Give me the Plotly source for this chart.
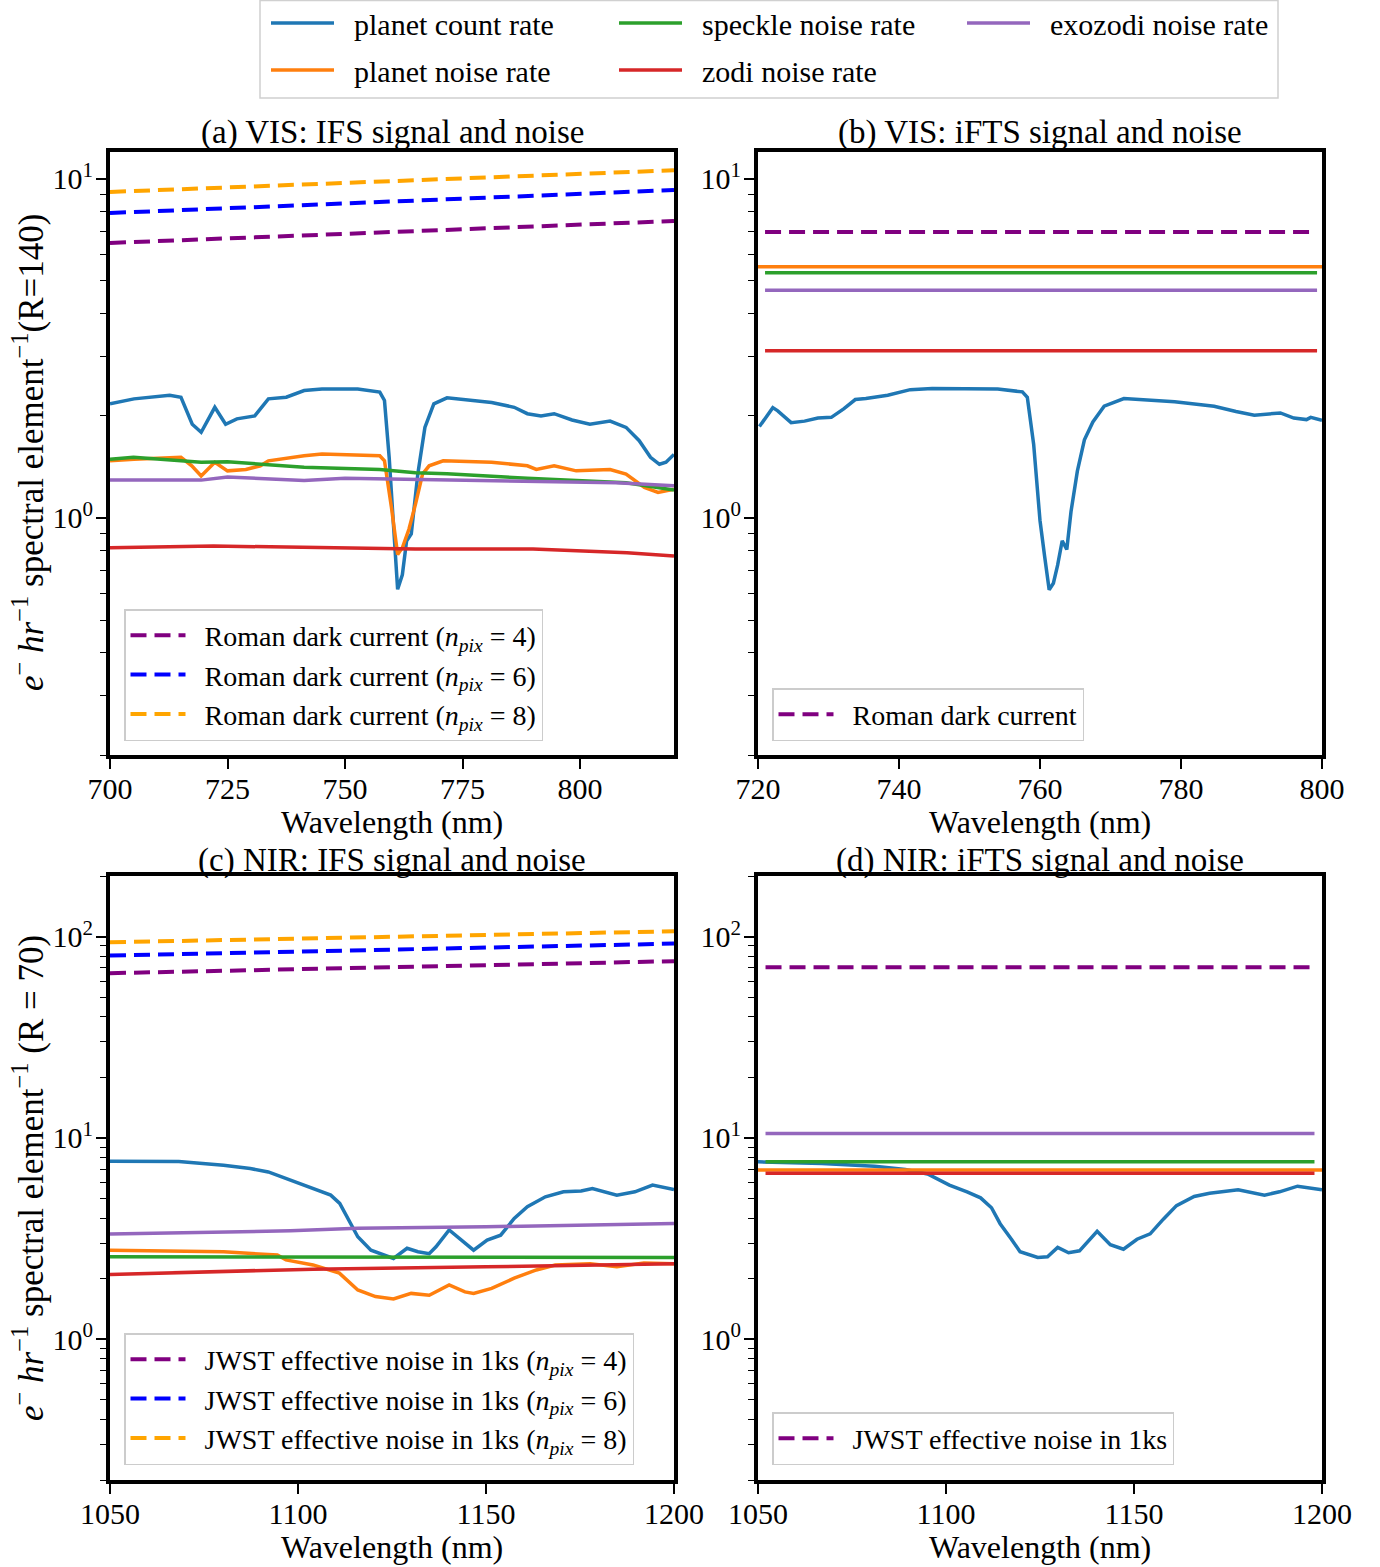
import math
import plotly.graph_objects as go

# ---------------- Panel (a): VIS IFS ----------------
a_count_wl = [700.0, 705.1, 712.7, 715.1, 717.5, 719.4, 722.3, 724.6, 727.0, 730.8, 733.7, 737.5,
              741.3, 745.1, 752.7, 757.4, 758.4, 759.4, 760.3, 761.2, 762.2, 763.1, 764.1, 765.5,
              767.0, 768.9, 771.7, 781.2, 786.0, 788.8, 791.7, 794.5, 798.3, 802.1, 806.4, 809.8,
              812.6, 815.0, 816.9, 818.3, 820.0]
a_count = [2.17, 2.245, 2.30, 2.27, 1.89, 1.79, 2.12, 1.89, 1.96, 2.00, 2.245, 2.27,
           2.376, 2.40, 2.40, 2.35, 2.22, 1.51, 0.96, 0.616, 0.68, 0.855, 0.897, 1.35,
           1.85, 2.17, 2.26, 2.19, 2.12, 2.03, 2.00, 2.03, 1.945, 1.89, 1.93, 1.85,
           1.69, 1.51, 1.44, 1.46, 1.54]
a_noise_wl = [700.0, 705.1, 715.1, 717.4, 719.4, 722.3, 725.0, 728.9, 732.0, 733.7, 741.3, 745.1,
              757.4, 758.4, 759.9, 761.2, 762.2, 763.6, 765.0, 766.5, 767.9, 770.9, 781.2, 788.8,
              790.7, 794.5, 799.2, 806.4, 809.8, 813.7, 816.6, 820.0]
a_noise = [1.474, 1.49, 1.51, 1.425, 1.33, 1.46, 1.377, 1.39, 1.425, 1.474, 1.526, 1.545,
           1.526, 1.474, 1.07, 0.78, 0.817, 0.926, 1.098, 1.347, 1.425, 1.474, 1.46, 1.425,
           1.39, 1.425, 1.377, 1.39, 1.347, 1.23, 1.19, 1.216]
a_speckle_wl = [700.0, 705.0, 719.4, 725.0, 741.3, 757.4, 765.0, 771.7, 788.8, 794.5, 809.8, 820.0]
a_speckle = [1.49, 1.51, 1.46, 1.465, 1.41, 1.39, 1.36, 1.35, 1.31, 1.30, 1.27, 1.208]
a_exozodi_wl = [700.0, 719.4, 725.0, 741.3, 750.0, 765.0, 771.7, 790.7, 807.7, 820.0]
a_exozodi = [1.293, 1.293, 1.32, 1.29, 1.31, 1.30, 1.30, 1.28, 1.27, 1.245]
a_zodi_wl = [700.0, 722.0, 741.0, 765.0, 790.0, 810.0, 820.0]
a_zodi = [0.817, 0.826, 0.82, 0.81, 0.81, 0.79, 0.772]
a_dark_wl = [700.0, 760.0, 820.0]
a_dark4 = [6.47, 6.96, 7.51]
a_dark6 = [7.93, 8.60, 9.27]
a_dark8 = [9.15, 9.84, 10.6]

# ---------------- Panel (b): VIS iFTS ----------------
b_count_wl = [720.2, 721.0, 722.1, 722.8, 724.7, 726.6, 728.5, 730.4, 732.2, 733.8, 735.3, 738.4,
              741.6, 744.7, 754.0, 757.5, 758.2, 759.1, 760.0, 760.65, 761.3, 761.9, 762.5, 763.15,
              763.8, 764.4, 765.3, 766.3, 767.5, 769.1, 771.9, 779.1, 784.7, 787.8, 790.4, 794.1,
              796.0, 797.8, 798.4, 800.0]
b_count = [1.86, 1.97, 2.115, 2.07, 1.91, 1.93, 1.97, 1.98, 2.10, 2.235, 2.25, 2.30,
           2.39, 2.41, 2.40, 2.354, 2.27, 1.65, 0.983, 0.772, 0.614, 0.642, 0.726, 0.857,
           0.807, 1.045, 1.374, 1.70, 1.92, 2.136, 2.25, 2.20, 2.136, 2.06, 2.01, 2.04,
           1.97, 1.95, 1.98, 1.94]
b_noise_wl = [720.0, 800.0]
b_noise = [5.51, 5.51]
b_line_wl = [721.0, 799.3]
b_speckle = [5.29, 5.29]
b_exozodi = [4.69, 4.69]
b_zodi = [3.11, 3.11]
b_dark_wl = [721.0, 799.2]
b_dark = [6.97, 6.97]

# ---------------- Panel (c): NIR IFS ----------------
c_count_wl = [1050.0, 1068.3, 1080.2, 1087.3, 1092.1, 1098.0, 1104.0, 1108.7, 1111.1, 1113.5, 1115.9,
              1119.4, 1123.0, 1125.4, 1129.0, 1131.9, 1134.9, 1136.7, 1140.2, 1144.4, 1146.7, 1150.3,
              1153.9, 1157.5, 1161.0, 1165.8, 1170.6, 1175.3, 1178.3, 1184.8, 1189.6, 1194.3, 1200.0]
c_count = [7.66, 7.63, 7.32, 7.05, 6.78, 6.17, 5.61, 5.20, 4.73, 3.91, 3.23,
           2.77, 2.62, 2.52, 2.83, 2.72, 2.66, 2.88, 3.49, 2.99, 2.77, 3.11,
           3.29, 3.98, 4.55, 5.10, 5.40, 5.45, 5.61, 5.20, 5.40, 5.83, 5.55]
c_noise_wl = [1050.0, 1080.2, 1094.5, 1096.8, 1104.0, 1111.0, 1115.9, 1120.6, 1125.4, 1130.1, 1134.9,
              1140.2, 1144.4, 1146.7, 1151.5, 1157.5, 1163.4, 1168.4, 1177.7, 1184.8, 1192.0, 1200.0]
c_noise = [2.77, 2.72, 2.62, 2.48, 2.34, 2.13, 1.757, 1.63, 1.585, 1.69, 1.655,
           1.86, 1.72, 1.69, 1.79, 2.01, 2.21, 2.34, 2.37, 2.29, 2.39, 2.37]
c_speckle_wl = [1050.0, 1125.0, 1200.0]
c_speckle = [2.57, 2.57, 2.55]
c_exozodi_wl = [1050.0, 1098.0, 1115.9, 1150.0, 1200.0]
c_exozodi = [3.33, 3.46, 3.56, 3.62, 3.76]
c_zodi_wl = [1050.0, 1104.0, 1150.0, 1200.0]
c_zodi = [2.10, 2.23, 2.29, 2.37]
c_jwst_wl = [1050.0, 1125.0, 1200.0]
c_jwst4 = [65.8, 70.5, 75.5]
c_jwst6 = [80.5, 86.0, 92.3]
c_jwst8 = [93.7, 100.0, 106.3]

# ---------------- Panel (d): NIR iFTS ----------------
d_count_wl = [1050.0, 1067.0, 1081.0, 1089.2, 1095.1, 1100.9, 1105.6, 1109.2, 1112.1, 1114.4, 1117.4,
              1119.7, 1124.4, 1127.0, 1129.7, 1132.6, 1135.5, 1140.2, 1143.7, 1147.2, 1150.8, 1154.3,
              1157.8, 1161.3, 1166.0, 1170.1, 1177.7, 1184.7, 1188.7, 1193.5, 1200.0]
d_count = [7.61, 7.46, 7.23, 6.97, 6.62, 5.83, 5.39, 5.04, 4.50, 3.75, 3.14,
           2.72, 2.55, 2.57, 2.86, 2.69, 2.75, 3.44, 2.95, 2.80, 3.14, 3.34,
           3.95, 4.61, 5.12, 5.31, 5.53, 5.20, 5.40, 5.76, 5.53]
d_noise_wl = [1050.0, 1200.0]
d_noise = [6.93, 6.93]
d_line_wl = [1052.0, 1198.0]
d_speckle = [7.61, 7.61]
d_exozodi = [10.53, 10.53]
d_zodi = [6.68, 6.68]
d_jwst_wl = [1052.0, 1198.0]
d_jwst = [70.4, 70.4]

# ---------------- Labels ----------------
series_names = ["planet count rate", "planet noise rate", "speckle noise rate",
                "zodi noise rate", "exozodi noise rate"]
series_colors = ["#1f77b4", "#ff7f0e", "#2ca02c", "#d62728", "#9467bd"]
dark_colors = ["purple", "blue", "orange"]
npix_values = [4, 6, 8]
panel_titles = ["(a) VIS: IFS signal and noise", "(b) VIS: iFTS signal and noise",
                "(c) NIR: IFS signal and noise", "(d) NIR: iFTS signal and noise"]
ylabel_top = "<i>e</i><sup>\u2212</sup> <i>hr</i><sup>\u22121</sup> spectral element<sup>\u22121</sup>(R=140)"
ylabel_bot = "<i>e</i><sup>\u2212</sup> <i>hr</i><sup>\u22121</sup> spectral element<sup>\u22121</sup> (R = 70)"
xlabel = "Wavelength (nm)"
top_ticks = [1, 10]
top_ticktext = ["10<sup>0</sup>", "10<sup>1</sup>"]
top_minor = [0.2, 0.3, 0.4, 0.5, 0.6, 0.7, 0.8, 0.9, 2, 3, 4, 5, 6, 7, 8, 9]
bot_ticks = [1, 10, 100]
bot_ticktext = ["10<sup>0</sup>", "10<sup>1</sup>", "10<sup>2</sup>"]
bot_minor = top_minor + [20, 30, 40, 50, 60, 70, 80, 90, 200]
xa_ticks = [700, 725, 750, 775, 800]
xb_ticks = [720, 740, 760, 780, 800]
xcd_ticks = [1050, 1100, 1150, 1200]

FONT = "Liberation Serif"
W, H = 1380, 1567
SOLID_W = 3.5
DASH = "16px,8px"
GAP = "\u2002"

fig = go.Figure()


def add(x, y, color, xa, ya, name, legend=None, dash=None, width=SOLID_W):
    fig.add_trace(go.Scatter(
        x=x, y=y, mode="lines", name=GAP + name,
        line=dict(color=color, width=width, dash=dash),
        xaxis=xa, yaxis=ya,
        showlegend=legend is not None,
        legend=legend if legend else "legend",
    ))


# main legend split over two rows (column-wise like matplotlib ncol=3)
row_of = {0: "legend", 1: "legend2", 2: "legend", 3: "legend2", 4: "legend"}

# Panel (a)
a_series = [(a_count_wl, a_count), (a_noise_wl, a_noise), (a_speckle_wl, a_speckle),
            (a_zodi_wl, a_zodi), (a_exozodi_wl, a_exozodi)]
for i, (xx, yy) in enumerate(a_series):
    add(xx, yy, series_colors[i], "x", "y", series_names[i], legend=row_of[i])
for k, yy in enumerate([a_dark4, a_dark6, a_dark8]):
    add(a_dark_wl, yy, dark_colors[k], "x", "y",
        "Roman dark current (<i>n</i><sub><i>pix</i></sub> = %d)" % npix_values[k],
        legend="legend3", dash=DASH, width=4)

# Panel (b)
b_series = [(b_count_wl, b_count), (b_noise_wl, b_noise), (b_line_wl, b_speckle),
            (b_line_wl, b_zodi), (b_line_wl, b_exozodi)]
for i, (xx, yy) in enumerate(b_series):
    add(xx, yy, series_colors[i], "x2", "y2", series_names[i])
add(b_dark_wl, b_dark, dark_colors[0], "x2", "y2", "Roman dark current",
    legend="legend4", dash=DASH, width=4)

# Panel (c)
c_series = [(c_count_wl, c_count), (c_noise_wl, c_noise), (c_speckle_wl, c_speckle),
            (c_zodi_wl, c_zodi), (c_exozodi_wl, c_exozodi)]
for i, (xx, yy) in enumerate(c_series):
    add(xx, yy, series_colors[i], "x3", "y3", series_names[i])
for k, yy in enumerate([c_jwst4, c_jwst6, c_jwst8]):
    add(c_jwst_wl, yy, dark_colors[k], "x3", "y3",
        "JWST effective noise in 1ks (<i>n</i><sub><i>pix</i></sub> = %d)" % npix_values[k],
        legend="legend5", dash=DASH, width=4)

# Panel (d)
d_series = [(d_count_wl, d_count), (d_noise_wl, d_noise), (d_line_wl, d_speckle),
            (d_line_wl, d_zodi), (d_line_wl, d_exozodi)]
for i, (xx, yy) in enumerate(d_series):
    add(xx, yy, series_colors[i], "x4", "y4", series_names[i])
add(d_jwst_wl, d_jwst, dark_colors[0], "x4", "y4", "JWST effective noise in 1ks",
    legend="legend6", dash=DASH, width=4)


def px_x(p):
    return p / W


def px_y(p):
    return 1 - p / H


xdom_l = [px_x(110), px_x(674)]
xdom_r = [px_x(758), px_x(1322)]
ydom_t = [px_y(755), px_y(152)]
ydom_b = [px_y(1480), px_y(876)]

tickfont = dict(family=FONT, size=30, color="black")
common_ax = dict(showline=True, linewidth=4, linecolor="black", mirror=True,
                 showgrid=False, zeroline=False, ticks="outside", ticklen=10,
                 tickwidth=1.5, tickcolor="black", tickfont=tickfont)


def xaxis(dom, rng, ticks, anchor):
    return dict(common_ax, domain=dom, range=rng, tickmode="array", tickvals=ticks,
                ticktext=[str(t) for t in ticks], anchor=anchor, ticklabelstandoff=-6)


def yaxis(dom, rng, ticks, ticktext, minor, anchor):
    return dict(common_ax, domain=dom, type="log", range=rng, tickmode="array",
                tickvals=ticks, ticktext=ticktext, anchor=anchor, ticklabelstandoff=-3,
                minor=dict(tickmode="array", tickvals=minor, ticks="outside",
                           ticklen=6, tickwidth=1.2, tickcolor="black", showgrid=False))


rt = [math.log10(0.2), math.log10(12)]
rb = [math.log10(0.2), math.log10(200)]

legend_inset = dict(bgcolor="rgba(255,255,255,0.85)", bordercolor="#cccccc", borderwidth=1.5,
                    font=dict(family=FONT, size=28, color="black"), itemwidth=55,
                    xanchor="left", yanchor="bottom", orientation="v", traceorder="normal")
legend_top = dict(bgcolor="rgba(0,0,0,0)", borderwidth=0, orientation="h",
                  font=dict(family=FONT, size=30, color="black"),
                  entrywidth=270, entrywidthmode="pixels", itemwidth=63,
                  xanchor="left", yanchor="top", traceorder="normal")

fig.update_layout(
    width=W, height=H, margin=dict(l=0, r=0, t=0, b=0, autoexpand=False),
    paper_bgcolor="white", plot_bgcolor="white",
    font=dict(family=FONT, size=29, color="black"),
    xaxis=xaxis(xdom_l, [700, 820], xa_ticks, "y"),
    yaxis=yaxis(ydom_t, rt, top_ticks, top_ticktext, top_minor, "x"),
    xaxis2=xaxis(xdom_r, [720, 800], xb_ticks, "y2"),
    yaxis2=yaxis(ydom_t, rt, top_ticks, top_ticktext, top_minor, "x2"),
    xaxis3=xaxis(xdom_l, [1050, 1200], xcd_ticks, "y3"),
    yaxis3=yaxis(ydom_b, rb, bot_ticks, bot_ticktext, bot_minor, "x3"),
    xaxis4=xaxis(xdom_r, [1050, 1200], xcd_ticks, "y4"),
    yaxis4=yaxis(ydom_b, rb, bot_ticks, bot_ticktext, bot_minor, "x4"),
    legend=dict(legend_top, x=px_x(266), y=px_y(-3)),
    legend2=dict(legend_top, x=px_x(266), y=px_y(44)),
    legend3=dict(legend_inset, x=px_x(124), y=px_y(741)),
    legend4=dict(legend_inset, x=px_x(772), y=px_y(741)),
    legend5=dict(legend_inset, x=px_x(124), y=px_y(1465)),
    legend6=dict(legend_inset, x=px_x(772), y=px_y(1465)),
    showlegend=True,
)

# frame of the main legend
fig.add_shape(type="rect", xref="paper", yref="paper",
              x0=px_x(260), x1=px_x(1278), y0=px_y(98), y1=px_y(0.5),
              line=dict(color="#d0d0d0", width=1.5), fillcolor="rgba(0,0,0,0)", layer="below")

# titles and axis labels
title_pos = [(392, 133), (1040, 133), (392, 860), (1040, 860)]
for t, (cx, cy) in zip(panel_titles, title_pos):
    fig.add_annotation(text=t, x=px_x(cx), y=px_y(cy), xref="paper", yref="paper",
                       showarrow=False, xanchor="center", yanchor="middle",
                       font=dict(family=FONT, size=33, color="black"))
for cx, cy in [(392, 822), (1040, 822), (392, 1547), (1040, 1547)]:
    fig.add_annotation(text=xlabel, x=px_x(cx), y=px_y(cy), xref="paper", yref="paper",
                       showarrow=False, xanchor="center", yanchor="middle",
                       font=dict(family=FONT, size=32, color="black"))
for txt, cy in [(ylabel_top, 453), (ylabel_bot, 1178)]:
    fig.add_annotation(text=txt, x=px_x(28), y=px_y(cy), xref="paper", yref="paper",
                       showarrow=False, xanchor="center", yanchor="middle", textangle=-90,
                       font=dict(family=FONT, size=35, color="black"))

fig.write_html("out.html")
